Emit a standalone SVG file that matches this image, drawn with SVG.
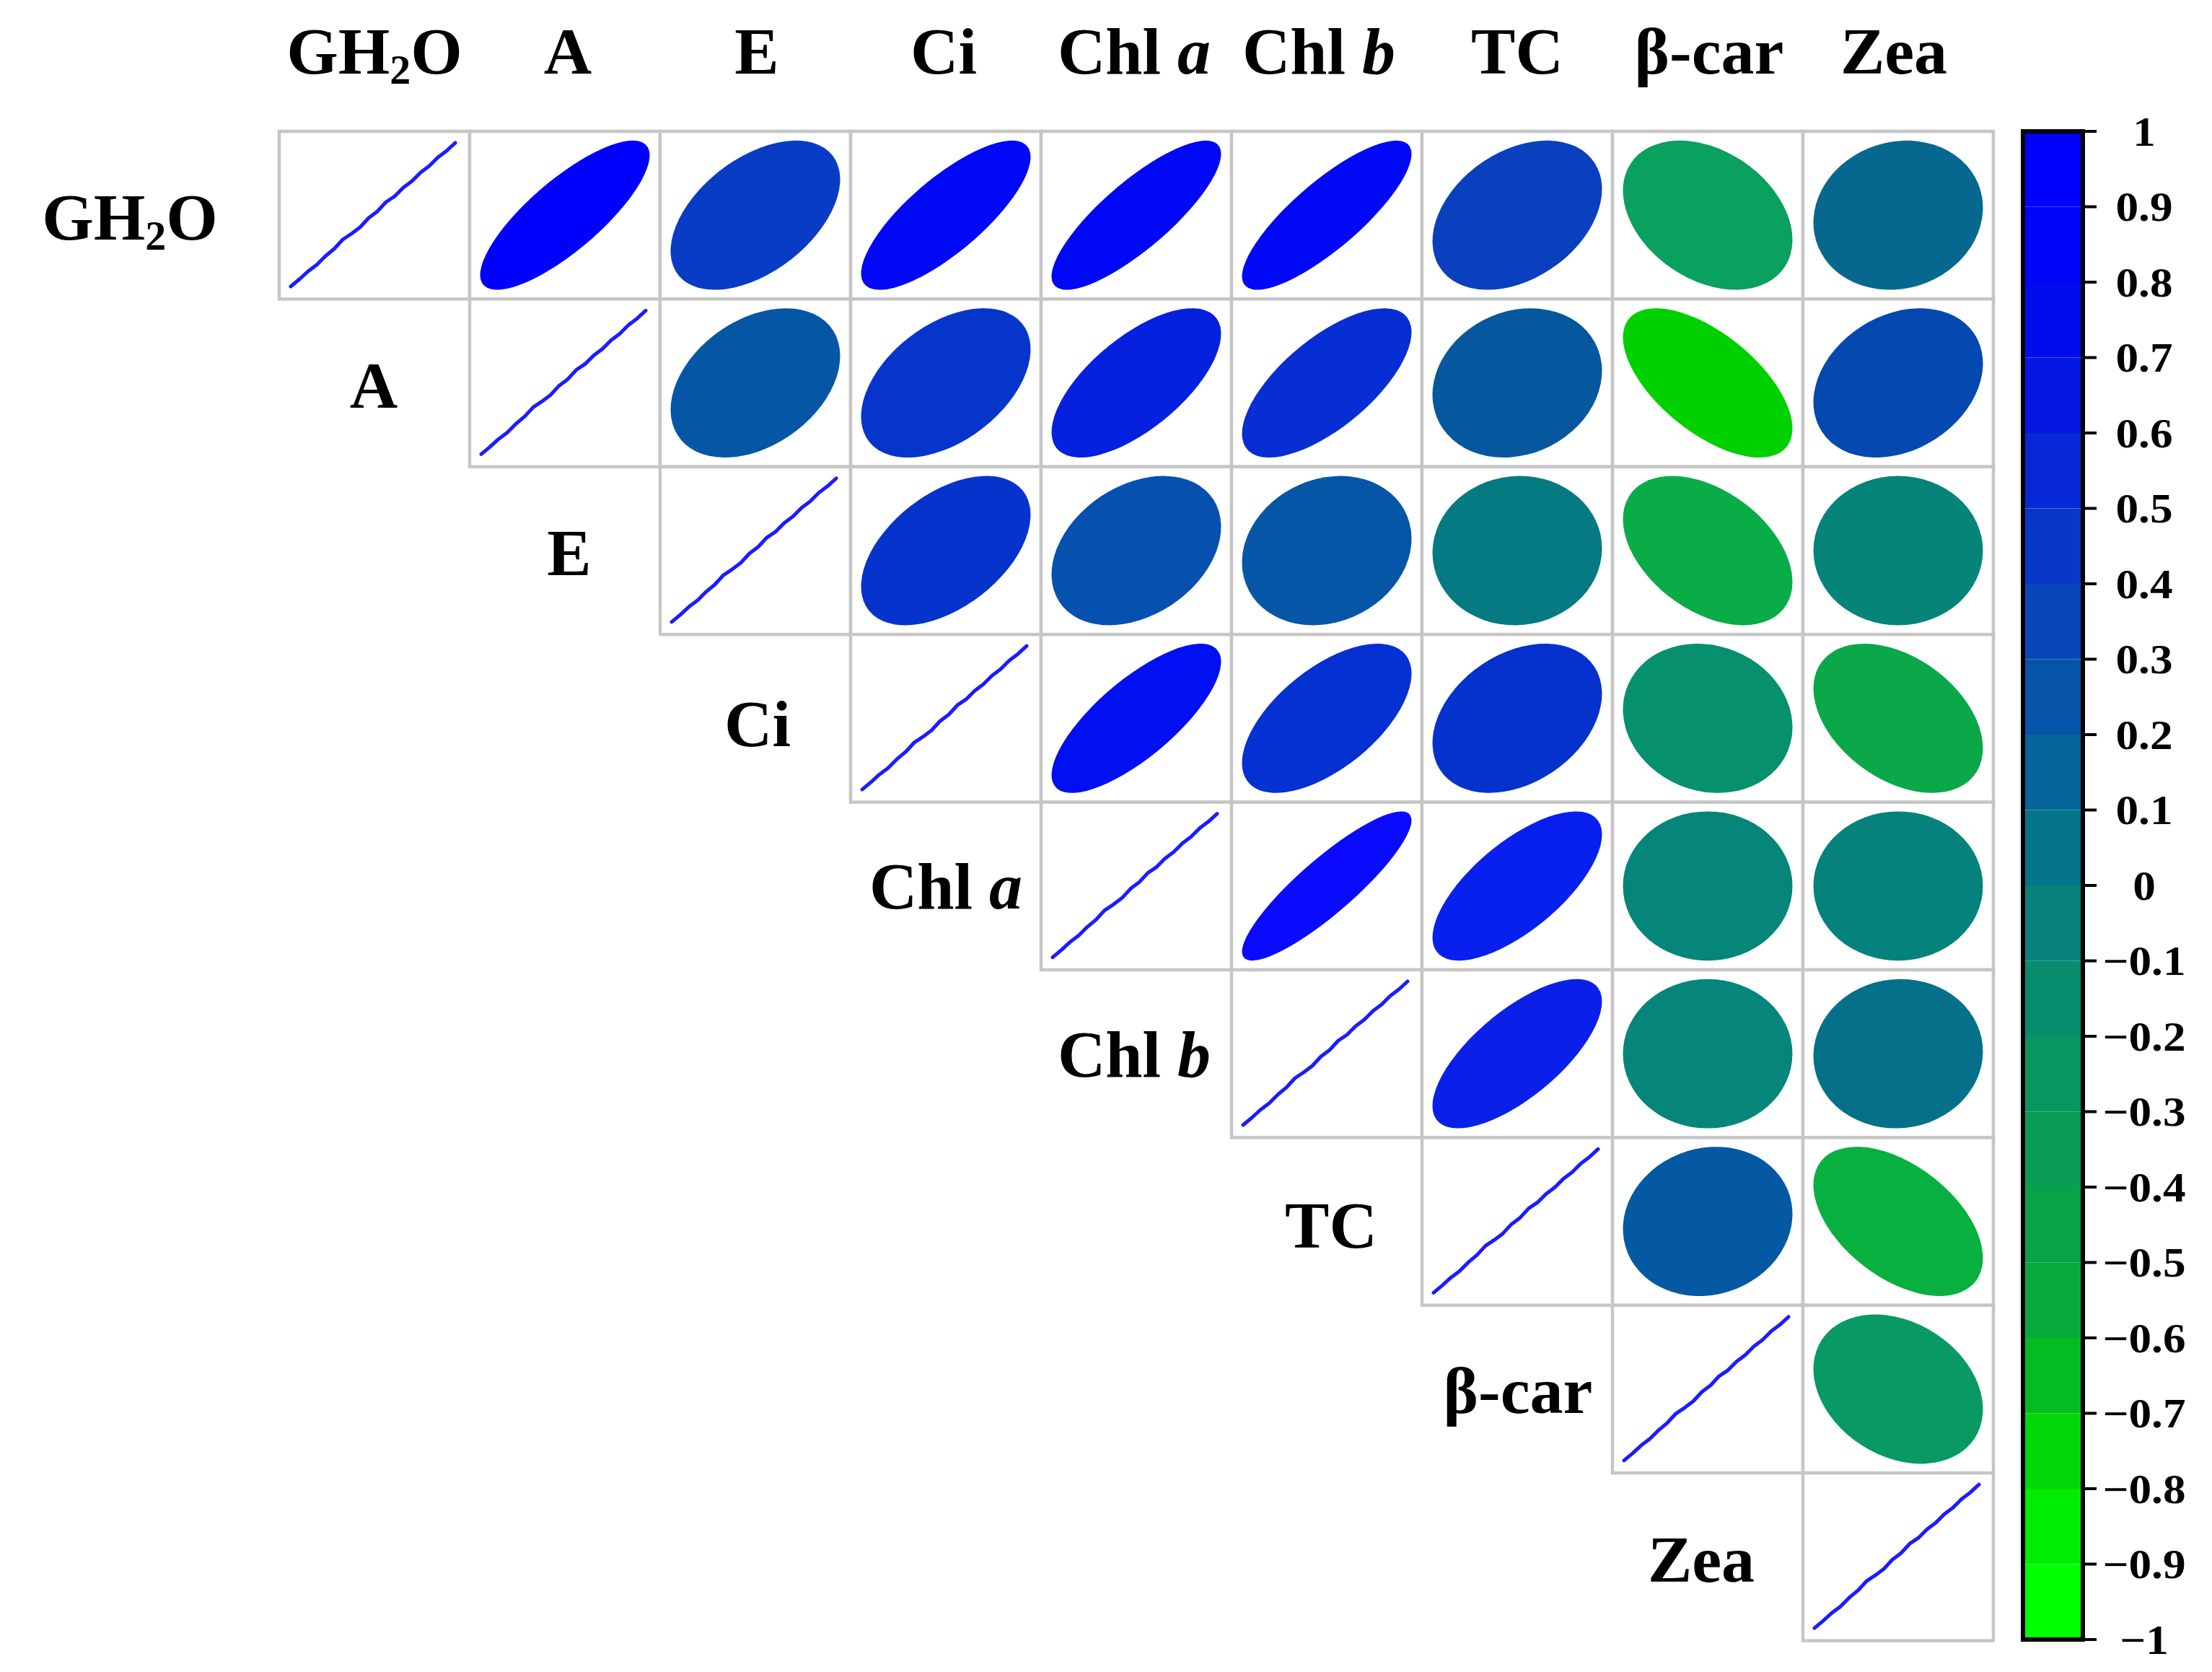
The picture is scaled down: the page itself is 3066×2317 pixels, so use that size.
<svg xmlns="http://www.w3.org/2000/svg" xmlns:xlink="http://www.w3.org/1999/xlink" width="3066" height="2317" viewBox="0 0 3066 2317">
<style>
.cell{fill:#fff;stroke:#c6c6c6;stroke-width:4.5}
.lbl{font-family:"Liberation Serif","Times New Roman",serif;font-weight:bold;font-size:92px;text-anchor:middle;fill:#000}
.tk{font-family:"Liberation Serif","Times New Roman",serif;font-weight:bold;font-size:56px;text-anchor:middle;fill:#000}
.diag{fill:none;stroke:#1c1cff;stroke-width:5;stroke-linejoin:round;stroke-linecap:round}
.tick{stroke:#000;stroke-width:4}
</style>
<defs>
<path id="diag" class="diag" d="M16,215 L28,205 L40,194 L52,185 L64,173 L76,163 L88,150 L100,142 L112,133 L124,120 L136,111 L148,98 L160,90 L172,78 L184,69 L196,57 L208,48 L220,36 L232,27 L244,16"/>
</defs>
<rect width="3066" height="2317" fill="#fff"/>

<g id="column-labels">
<text class="lbl" x="519" y="102">GH<tspan font-size="58" dy="14">2</tspan><tspan dy="-14">O</tspan></text>
<text class="lbl" x="787" y="102">A</text>
<text class="lbl" x="1049" y="102">E</text>
<text class="lbl" x="1308" y="102">Ci</text>
<text class="lbl" x="1572" y="102">Chl <tspan font-style="italic">a</tspan></text>
<text class="lbl" x="1828" y="102">Chl <tspan font-style="italic">b</tspan></text>
<text class="lbl" x="2103" y="102">TC</text>
<text class="lbl" x="2369" y="102">β-car</text>
<text class="lbl" x="2625" y="102">Zea</text>
</g>

<g id="row-GH2O">
<text class="lbl" x="180" y="332">GH<tspan font-size="58" dy="14">2</tspan><tspan dy="-14">O</tspan></text>
<rect class="cell" x="387" y="182" width="264" height="232.4"/>
<rect class="cell" x="651" y="182" width="264" height="232.4"/>
<rect class="cell" x="915" y="182" width="264" height="232.4"/>
<rect class="cell" x="1179" y="182" width="264" height="232.4"/>
<rect class="cell" x="1443" y="182" width="264" height="232.4"/>
<rect class="cell" x="1707" y="182" width="264" height="232.4"/>
<rect class="cell" x="1971" y="182" width="264" height="232.4"/>
<rect class="cell" x="2235" y="182" width="264" height="232.4"/>
<rect class="cell" x="2499" y="182" width="264" height="232.4"/>
<use xlink:href="#diag" href="#diag" transform="translate(387 182)"/>
<ellipse rx="0.5970" ry="0.1990" fill="#0000FF" transform="translate(783 298.2) scale(264 232.4) rotate(-45)"/>
<ellipse rx="0.5414" ry="0.3209" fill="#083CC4" transform="translate(1047 298.2) scale(264 232.4) rotate(-45)"/>
<ellipse rx="0.5937" ry="0.2087" fill="#0008F6" transform="translate(1311 298.2) scale(264 232.4) rotate(-45)"/>
<ellipse rx="0.6003" ry="0.1888" fill="#0008F6" transform="translate(1575 298.2) scale(264 232.4) rotate(-45)"/>
<ellipse rx="0.6003" ry="0.1888" fill="#0008F6" transform="translate(1839 298.2) scale(264 232.4) rotate(-45)"/>
<ellipse rx="0.5170" ry="0.3588" fill="#0A40BE" transform="translate(2103 298.2) scale(264 232.4) rotate(-45)"/>
<ellipse rx="0.5132" ry="0.3642" fill="#0AA05E" transform="translate(2367 298.2) scale(264 232.4) rotate(45)"/>
<ellipse rx="0.4667" ry="0.4222" fill="#06688F" transform="translate(2631 298.2) scale(264 232.4) rotate(-45)"/>
</g>

<g id="row-A">
<text class="lbl" x="518" y="565">A</text>
<rect class="cell" x="651" y="414.4" width="264" height="232.4"/>
<rect class="cell" x="915" y="414.4" width="264" height="232.4"/>
<rect class="cell" x="1179" y="414.4" width="264" height="232.4"/>
<rect class="cell" x="1443" y="414.4" width="264" height="232.4"/>
<rect class="cell" x="1707" y="414.4" width="264" height="232.4"/>
<rect class="cell" x="1971" y="414.4" width="264" height="232.4"/>
<rect class="cell" x="2235" y="414.4" width="264" height="232.4"/>
<rect class="cell" x="2499" y="414.4" width="264" height="232.4"/>
<use xlink:href="#diag" href="#diag" transform="translate(651 414.4)"/>
<ellipse rx="0.5190" ry="0.3560" fill="#0656A6" transform="translate(1047 530.6) scale(264 232.4) rotate(-45)"/>
<ellipse rx="0.5359" ry="0.3300" fill="#0535CA" transform="translate(1311 530.6) scale(264 232.4) rotate(-45)"/>
<ellipse rx="0.5733" ry="0.2595" fill="#0520DE" transform="translate(1575 530.6) scale(264 232.4) rotate(-45)"/>
<ellipse rx="0.5768" ry="0.2517" fill="#072ED2" transform="translate(1839 530.6) scale(264 232.4) rotate(-45)"/>
<ellipse rx="0.4793" ry="0.4078" fill="#06589E" transform="translate(2103 530.6) scale(264 232.4) rotate(-45)"/>
<ellipse rx="0.5647" ry="0.2779" fill="#00D000" transform="translate(2367 530.6) scale(264 232.4) rotate(45)"/>
<ellipse rx="0.4995" ry="0.3828" fill="#0448B0" transform="translate(2631 530.6) scale(264 232.4) rotate(-45)"/>
</g>

<g id="row-E">
<text class="lbl" x="789" y="797">E</text>
<rect class="cell" x="915" y="646.8" width="264" height="232.4"/>
<rect class="cell" x="1179" y="646.8" width="264" height="232.4"/>
<rect class="cell" x="1443" y="646.8" width="264" height="232.4"/>
<rect class="cell" x="1707" y="646.8" width="264" height="232.4"/>
<rect class="cell" x="1971" y="646.8" width="264" height="232.4"/>
<rect class="cell" x="2235" y="646.8" width="264" height="232.4"/>
<rect class="cell" x="2499" y="646.8" width="264" height="232.4"/>
<use xlink:href="#diag" href="#diag" transform="translate(915 646.8)"/>
<ellipse rx="0.5414" ry="0.3209" fill="#0533CC" transform="translate(1311 763) scale(264 232.4) rotate(-45)"/>
<ellipse rx="0.5113" ry="0.3669" fill="#0650B0" transform="translate(1575 763) scale(264 232.4) rotate(-45)"/>
<ellipse rx="0.4793" ry="0.4078" fill="#0656A8" transform="translate(1839 763) scale(264 232.4) rotate(-45)"/>
<ellipse rx="0.4516" ry="0.4383" fill="#057A82" transform="translate(2103 763) scale(264 232.4) rotate(-45)"/>
<ellipse rx="0.5303" ry="0.3389" fill="#0AAC48" transform="translate(2367 763) scale(264 232.4) rotate(45)"/>
<ellipse rx="0.445" ry="0.445" fill="#06847A" transform="translate(2631 763) scale(264 232.4)"/>
</g>

<g id="row-Ci">
<text class="lbl" x="1050" y="1034">Ci</text>
<rect class="cell" x="1179" y="879.2" width="264" height="232.4"/>
<rect class="cell" x="1443" y="879.2" width="264" height="232.4"/>
<rect class="cell" x="1707" y="879.2" width="264" height="232.4"/>
<rect class="cell" x="1971" y="879.2" width="264" height="232.4"/>
<rect class="cell" x="2235" y="879.2" width="264" height="232.4"/>
<rect class="cell" x="2499" y="879.2" width="264" height="232.4"/>
<use xlink:href="#diag" href="#diag" transform="translate(1179 879.2)"/>
<ellipse rx="0.5903" ry="0.2180" fill="#0010F2" transform="translate(1575 995.4) scale(264 232.4) rotate(-45)"/>
<ellipse rx="0.5629" ry="0.2815" fill="#0530D2" transform="translate(1839 995.4) scale(264 232.4) rotate(-45)"/>
<ellipse rx="0.5132" ry="0.3642" fill="#0532CC" transform="translate(2103 995.4) scale(264 232.4) rotate(-45)"/>
<ellipse rx="0.4709" ry="0.4174" fill="#07906E" transform="translate(2367 995.4) scale(264 232.4) rotate(45)"/>
<ellipse rx="0.5265" ry="0.3447" fill="#0AA848" transform="translate(2631 995.4) scale(264 232.4) rotate(45)"/>
</g>

<g id="row-Chla">
<text class="lbl" x="1311" y="1259">Chl <tspan font-style="italic">a</tspan></text>
<rect class="cell" x="1443" y="1111.6" width="264" height="232.4"/>
<rect class="cell" x="1707" y="1111.6" width="264" height="232.4"/>
<rect class="cell" x="1971" y="1111.6" width="264" height="232.4"/>
<rect class="cell" x="2235" y="1111.6" width="264" height="232.4"/>
<rect class="cell" x="2499" y="1111.6" width="264" height="232.4"/>
<use xlink:href="#diag" href="#diag" transform="translate(1443 1111.6)"/>
<ellipse rx="0.6101" ry="0.1541" fill="#0A0AFF" transform="translate(1839 1227.8) scale(264 232.4) rotate(-45)"/>
<ellipse rx="0.5785" ry="0.2478" fill="#0820EE" transform="translate(2103 1227.8) scale(264 232.4) rotate(-45)"/>
<ellipse rx="0.445" ry="0.445" fill="#06857A" transform="translate(2367 1227.8) scale(264 232.4)"/>
<ellipse rx="0.445" ry="0.445" fill="#06827C" transform="translate(2631 1227.8) scale(264 232.4)"/>
</g>

<g id="row-Chlb">
<text class="lbl" x="1572" y="1492">Chl <tspan font-style="italic">b</tspan></text>
<rect class="cell" x="1707" y="1344" width="264" height="232.4"/>
<rect class="cell" x="1971" y="1344" width="264" height="232.4"/>
<rect class="cell" x="2235" y="1344" width="264" height="232.4"/>
<rect class="cell" x="2499" y="1344" width="264" height="232.4"/>
<use xlink:href="#diag" href="#diag" transform="translate(1707 1344)"/>
<ellipse rx="0.5802" ry="0.2437" fill="#0A20E8" transform="translate(2103 1460.2) scale(264 232.4) rotate(-45)"/>
<ellipse rx="0.445" ry="0.445" fill="#06867A" transform="translate(2367 1460.2) scale(264 232.4)"/>
<ellipse rx="0.4516" ry="0.4383" fill="#05708A" transform="translate(2631 1460.2) scale(264 232.4) rotate(-45)"/>
</g>

<g id="row-TC">
<text class="lbl" x="1845" y="1729">TC</text>
<rect class="cell" x="1971" y="1576.4" width="264" height="232.4"/>
<rect class="cell" x="2235" y="1576.4" width="264" height="232.4"/>
<rect class="cell" x="2499" y="1576.4" width="264" height="232.4"/>
<use xlink:href="#diag" href="#diag" transform="translate(1971 1576.4)"/>
<ellipse rx="0.4667" ry="0.4222" fill="#0558A2" transform="translate(2367 1692.6) scale(264 232.4) rotate(-45)"/>
<ellipse rx="0.5432" ry="0.3178" fill="#08B040" transform="translate(2631 1692.6) scale(264 232.4) rotate(45)"/>
</g>

<g id="row-bcar">
<text class="lbl" x="2104" y="1958">β-car</text>
<rect class="cell" x="2235" y="1808.8" width="264" height="232.4"/>
<rect class="cell" x="2499" y="1808.8" width="264" height="232.4"/>
<use xlink:href="#diag" href="#diag" transform="translate(2235 1808.8)"/>
<ellipse rx="0.5015" ry="0.3802" fill="#089A62" transform="translate(2631 1925) scale(264 232.4) rotate(45)"/>
</g>

<g id="row-Zea">
<text class="lbl" x="2358" y="2192">Zea</text>
<rect class="cell" x="2499" y="2041.2" width="264" height="232.4"/>
<use xlink:href="#diag" href="#diag" transform="translate(2499 2041.2)"/>
</g>

<g id="colorbar">
<rect x="2806" y="182" width="80" height="104.5" fill="#0000FF"/>
<rect x="2806" y="286.5" width="80" height="104.5" fill="#0004F8"/>
<rect x="2806" y="391" width="80" height="104.5" fill="#000CEE"/>
<rect x="2806" y="495.5" width="80" height="104.5" fill="#0418E2"/>
<rect x="2806" y="600" width="80" height="104.5" fill="#0628D6"/>
<rect x="2806" y="704.5" width="80" height="104.5" fill="#0838C8"/>
<rect x="2806" y="809" width="80" height="104.5" fill="#0846B8"/>
<rect x="2806" y="913.5" width="80" height="104.5" fill="#0654A8"/>
<rect x="2806" y="1018" width="80" height="104.5" fill="#056498"/>
<rect x="2806" y="1122.5" width="80" height="104.5" fill="#047488"/>
<rect x="2806" y="1227" width="80" height="104.5" fill="#06827A"/>
<rect x="2806" y="1331.5" width="80" height="104.5" fill="#078C6E"/>
<rect x="2806" y="1436" width="80" height="104.5" fill="#089660"/>
<rect x="2806" y="1540.5" width="80" height="104.5" fill="#089C54"/>
<rect x="2806" y="1645" width="80" height="104.5" fill="#08A248"/>
<rect x="2806" y="1749.5" width="80" height="104.5" fill="#07AA3A"/>
<rect x="2806" y="1854" width="80" height="104.5" fill="#04BC22"/>
<rect x="2806" y="1958.5" width="80" height="104.5" fill="#00D808"/>
<rect x="2806" y="2063" width="80" height="104.5" fill="#00EC00"/>
<rect x="2806" y="2167.5" width="80" height="104.5" fill="#00FF00"/>
<rect x="2804" y="182" width="83" height="2090" fill="none" stroke="#000" stroke-width="6"/>
<path class="tick" d="M2887,182H2906M2887,286.5H2906M2887,391H2906M2887,495.5H2906M2887,600H2906M2887,704.5H2906M2887,809H2906M2887,913.5H2906M2887,1018H2906M2887,1122.5H2906M2887,1227H2906M2887,1331.5H2906M2887,1436H2906M2887,1540.5H2906M2887,1645H2906M2887,1749.5H2906M2887,1854H2906M2887,1958.5H2906M2887,2063H2906M2887,2167.5H2906M2887,2272H2906"/>
<g transform="translate(2972 0) scale(1.13 1) translate(-2972 0)">
<text class="tk" x="2972" y="202">1</text>
<text class="tk" x="2972" y="306.5">0.9</text>
<text class="tk" x="2972" y="411">0.8</text>
<text class="tk" x="2972" y="515.5">0.7</text>
<text class="tk" x="2972" y="620">0.6</text>
<text class="tk" x="2972" y="724.5">0.5</text>
<text class="tk" x="2972" y="829">0.4</text>
<text class="tk" x="2972" y="933.5">0.3</text>
<text class="tk" x="2972" y="1038">0.2</text>
<text class="tk" x="2972" y="1142.5">0.1</text>
<text class="tk" x="2972" y="1247">0</text>
<text class="tk" x="2972" y="1351.5">−0.1</text>
<text class="tk" x="2972" y="1456">−0.2</text>
<text class="tk" x="2972" y="1560.5">−0.3</text>
<text class="tk" x="2972" y="1665">−0.4</text>
<text class="tk" x="2972" y="1769.5">−0.5</text>
<text class="tk" x="2972" y="1874">−0.6</text>
<text class="tk" x="2972" y="1978.5">−0.7</text>
<text class="tk" x="2972" y="2083">−0.8</text>
<text class="tk" x="2972" y="2187.5">−0.9</text>
<text class="tk" x="2972" y="2292">−1</text>
</g>
</g>
</svg>
